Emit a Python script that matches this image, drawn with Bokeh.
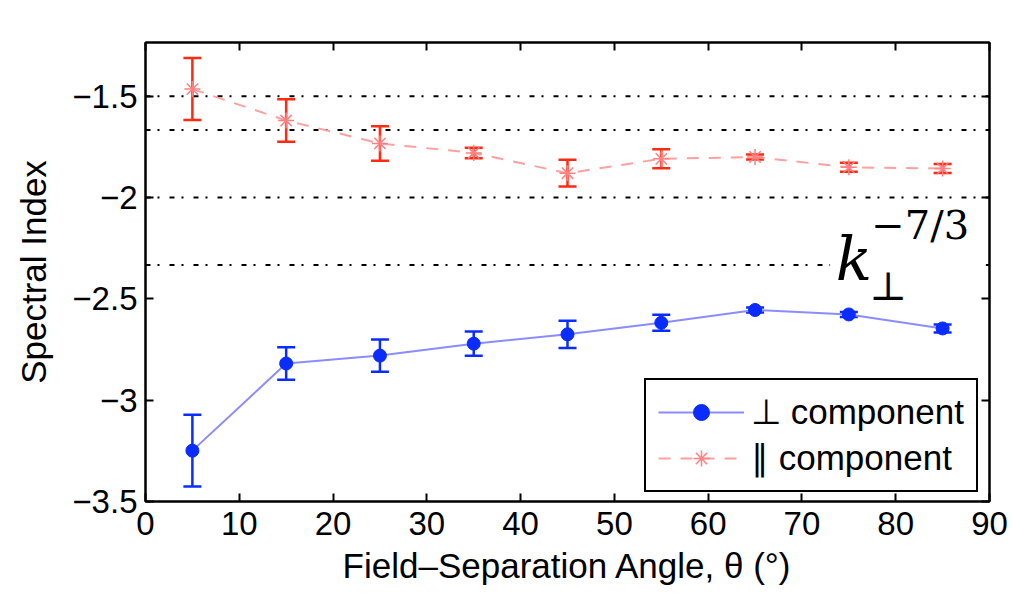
from bokeh.plotting import figure
from bokeh.models import (ColumnDataSource, Whisker, TeeHead, Span, Label, Legend, LegendItem,
                          LinearAxis, Range1d, FixedTicker, CustomJSTickFormatter, BoxAnnotation)
from bokeh.embed import file_html
from bokeh.resources import INLINE

# ---- data ----
angles = [5, 15, 25, 35, 45, 55, 65, 75, 85]
perp_index = [-3.249, -2.819, -2.780, -2.721, -2.675, -2.618, -2.555, -2.577, -2.646]
perp_err = [0.177, 0.080, 0.080, 0.060, 0.067, 0.040, 0.012, 0.012, 0.020]
para_index = [-1.465, -1.620, -1.733, -1.780, -1.880, -1.809, -1.800, -1.851, -1.857]
para_err = [0.153, 0.105, 0.085, 0.026, 0.066, 0.047, 0.012, 0.022, 0.022]
ref_levels = [-1.5, -5/3, -2.0, -7/3]
x_ticks = [0, 10, 20, 30, 40, 50, 60, 70, 80, 90]
y_ticks = [-3.5, -3.0, -2.5, -2.0, -1.5]
y_tick_labels = ["\u22123.5", "\u22123", "\u22122.5", "\u22122", "\u22121.5"]
perp_label = "\u22a5 component"
para_label = "\u2225 component"
x_title = "Field\u2013Separation Angle, \u03b8 (\u00b0)"
y_title = "Spectral Index"

FONT = "Liberation Sans"

p = figure(width=1012, height=598, output_backend="svg", toolbar_location=None,
           x_range=Range1d(0, 90), y_range=Range1d(-3.5, -1.235),
           min_border_left=145, min_border_right=23, min_border_top=42, min_border_bottom=97)
p.background_fill_color = "white"
p.border_fill_color = "white"
p.outline_line_color = "black"
p.outline_line_width = 2
p.grid.visible = False

def style_axis(ax, labels=True):
    ax.axis_line_color = "black"
    ax.axis_line_width = 2
    ax.major_tick_in = 8
    ax.major_tick_out = 0
    ax.major_tick_line_width = 2
    ax.minor_tick_line_color = None
    ax.major_label_text_font = FONT
    ax.major_label_text_font_size = "33px"
    ax.major_label_text_color = "black"
    if not labels:
        ax.formatter = CustomJSTickFormatter(code="return ''")
        ax.major_label_text_font_size = "1px"

p.xaxis.ticker = FixedTicker(ticks=x_ticks)
p.yaxis.ticker = FixedTicker(ticks=y_ticks)
p.yaxis.major_label_overrides = {t: l for t, l in zip(y_ticks, y_tick_labels)}
style_axis(p.xaxis[0])
style_axis(p.yaxis[0])
p.xaxis.major_label_standoff = 10
p.yaxis.major_label_standoff = 8
p.xaxis.axis_label = x_title
p.yaxis.axis_label = y_title
for ax in (p.xaxis[0], p.yaxis[0]):
    ax.axis_label_text_font = FONT
    ax.axis_label_text_font_size = "35px"
    ax.axis_label_text_font_style = "normal"
    ax.axis_label_text_color = "black"
p.xaxis.axis_label_standoff = 8
p.yaxis.axis_label_standoff = 16

rax = LinearAxis(ticker=FixedTicker(ticks=y_ticks))
style_axis(rax, labels=False)
p.add_layout(rax, "right")
tax = LinearAxis(ticker=FixedTicker(ticks=x_ticks))
style_axis(tax, labels=False)
p.add_layout(tax, "above")

# reference lines
for lv in ref_levels:
    p.add_layout(Span(location=lv, dimension="width", line_color="black",
                      line_width=2, line_dash="5 7 2 10", level="underlay"))

perp_src = ColumnDataSource(dict(x=angles, y=perp_index,
                                 lo=[v - e for v, e in zip(perp_index, perp_err)],
                                 hi=[v + e for v, e in zip(perp_index, perp_err)]))
para_src = ColumnDataSource(dict(x=angles, y=para_index,
                                 lo=[v - e for v, e in zip(para_index, para_err)],
                                 hi=[v + e for v, e in zip(para_index, para_err)]))

BLUE = "#0a2cff"
RED = "#ff2a10"

bline = p.line("x", "y", source=perp_src, line_color="#8c8cff", line_width=2)
p.add_layout(Whisker(source=perp_src, base="x", lower="lo", upper="hi",
                     line_color=BLUE, line_width=2.5,
                     lower_head=TeeHead(size=18, line_color=BLUE, line_width=2.5),
                     upper_head=TeeHead(size=18, line_color=BLUE, line_width=2.5)))
bsc = p.scatter("x", "y", source=perp_src, marker="circle", size=13,
                fill_color=BLUE, line_color=BLUE)

rline = p.line("x", "y", source=para_src, line_color="#ffa0a0", line_width=2, line_dash="12 10")
p.add_layout(Whisker(source=para_src, base="x", lower="lo", upper="hi",
                     line_color=RED, line_width=2.5,
                     lower_head=TeeHead(size=18, line_color=RED, line_width=2.5),
                     upper_head=TeeHead(size=18, line_color=RED, line_width=2.5)))
rsc = p.scatter("x", "y", source=para_src, marker="asterisk", size=16,
                line_color="#ff8080", line_width=1.5)

# k_perp^{-7/3} annotation with white background
p.add_layout(BoxAnnotation(left=73.0, right=89.6, top=-2.15, bottom=-2.45,
                           fill_color="white", fill_alpha=1.0, line_color=None))
p.add_layout(Label(x=73.6, y=-2.302, text="k", text_font="DejaVu Serif",
                   text_font_style="italic", text_font_size="60px", text_color="black",
                   text_baseline="alphabetic"))
p.add_layout(Label(x=77.2, y=-2.435, text="\u22a5", text_font="DejaVu Serif",
                   text_font_size="40px", text_color="black", text_baseline="alphabetic"))
p.add_layout(Label(x=77.4, y=-2.135, text="\u22127/3", text_font="DejaVu Serif",
                   text_font_size="40px", text_color="black", text_baseline="alphabetic"))

legend = Legend(items=[LegendItem(label=perp_label, renderers=[bline, bsc]),
                       LegendItem(label=para_label, renderers=[rline, rsc])],
                location=(499, 9))
legend.label_text_font = FONT
legend.label_text_font_size = "35px"
legend.label_text_color = "black"
legend.glyph_width = 86
legend.glyph_height = 40
legend.label_height = 40
legend.label_standoff = 7
legend.padding = 12
legend.spacing = 6
legend.margin = 0
legend.border_line_color = "black"
legend.border_line_alpha = 1.0
legend.border_line_width = 2
legend.background_fill_color = "white"
legend.background_fill_alpha = 1.0
p.add_layout(legend, "center")

open("out.html", "w").write(file_html(p, INLINE))
